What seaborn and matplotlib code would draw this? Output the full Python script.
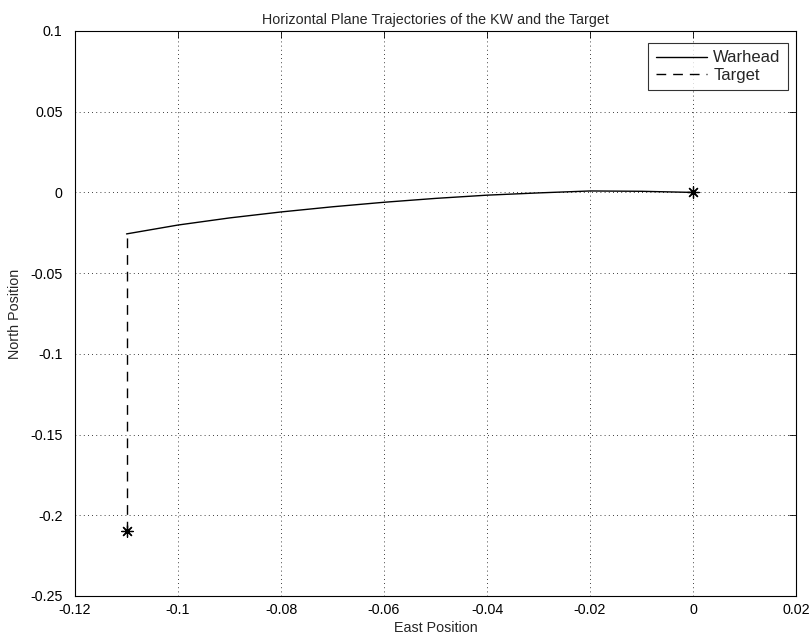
import numpy as np
import pandas as pd
import matplotlib
matplotlib.use('Agg')
import matplotlib.pyplot as plt
import seaborn as sns

# trajectory data
warhead_east = [0.0, -0.01, -0.02, -0.03, -0.04, -0.05, -0.06, -0.07, -0.08,
                -0.09, -0.1, -0.11]
warhead_north = [0.0, 0.0007, 0.0009, -0.0003, -0.0017, -0.0037, -0.0061,
                 -0.0089, -0.0121, -0.0158, -0.0202, -0.0257]
target_east = [-0.11, -0.11]
target_north = [-0.21, -0.0257]

xtick_labels = ['-0.12', '-0.1', '-0.08', '-0.06', '-0.04', '-0.02', '0', '0.02']
ytick_labels = ['-0.25', '-0.2', '-0.15', '-0.1', '-0.05', '0', '0.05', '0.1']

sns.set_style('white')
plt.rcParams['font.family'] = ['Liberation Sans', 'DejaVu Sans']
fs = 10.3

fig = plt.figure(figsize=(8.12, 6.39), dpi=100)
ax = fig.add_axes([0.0924, 0.0673, 0.8879, 0.8842])

df_w = pd.DataFrame({'east': warhead_east, 'north': warhead_north})
df_t = pd.DataFrame({'east': target_east, 'north': target_north})

sns.lineplot(data=df_w, x='east', y='north', sort=False, estimator=None,
             color='black', linewidth=1.0, ax=ax, label='Warhead')
sns.lineplot(data=df_t, x='east', y='north', sort=False, estimator=None,
             color='black', linewidth=1.0, linestyle=(0, (7, 5)), ax=ax,
             label='Target')

# start points
sns.scatterplot(x=[warhead_east[0], target_east[0]],
                y=[warhead_north[0], target_north[0]],
                marker=(8, 2, 0), color='black', s=70, linewidth=0.9, ax=ax,
                legend=False)

ax.set_xlim(-0.12, 0.02)
ax.set_ylim(-0.25, 0.1)
ax.set_xticks(np.linspace(-0.12, 0.02, 8))
ax.set_yticks(np.linspace(-0.25, 0.1, 8))
ax.set_xticklabels(xtick_labels)
ax.set_yticklabels(ytick_labels)
ax.tick_params(direction='in', length=5, width=0.6, top=True, right=True,
               labelsize=fs, colors='black')
ax.tick_params(axis='y', pad=9)
ax.tick_params(axis='x', pad=5)

ax.grid(True, linestyle=(0, (1, 4)), color='black', linewidth=0.6)
for s in ax.spines.values():
    s.set_color('black')
    s.set_linewidth(0.8)

ax.set_xlabel('East Position', fontsize=fs, labelpad=3)
ax.set_ylabel('North Position', fontsize=fs, labelpad=6)
ax.set_title('Horizontal Plane Trajectories of the KW and the Target',
             fontsize=fs, pad=5)

leg = ax.legend(loc='upper right', bbox_to_anchor=(0.989, 0.979),
                borderaxespad=0, frameon=True, fancybox=False, fontsize=12,
                handlelength=3.1, handletextpad=0.35, labelspacing=0.15,
                borderpad=0.45)
leg.get_frame().set_edgecolor('black')
leg.get_frame().set_linewidth(0.8)

fig.savefig('out.png', dpi=100)
